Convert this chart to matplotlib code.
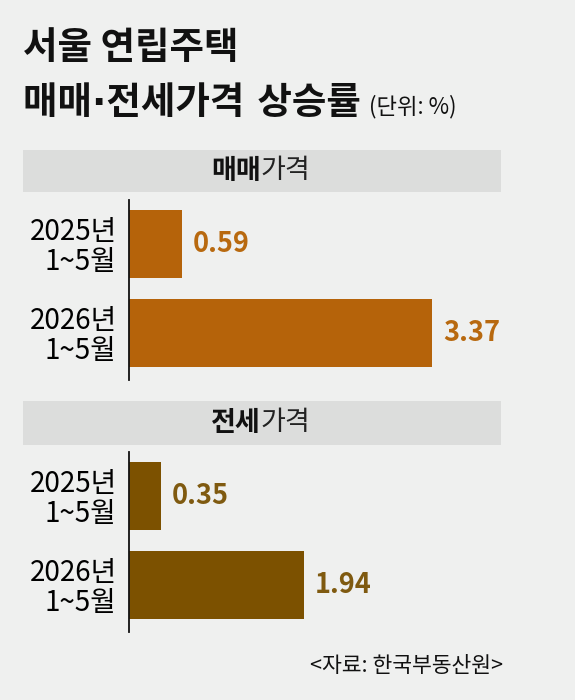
import matplotlib
matplotlib.use("Agg")
import matplotlib.pyplot as plt

plt.rcParams['font.family'] = ['Noto Sans CJK KR', 'DejaVu Sans']

# 데이터
categories = ["2025년\n1~5월", "2026년\n1~5월"]
sale_values = [0.59, 3.37]      # 매매가격 상승률
jeonse_values = [0.35, 1.94]    # 전세가격 상승률

W, H = 575, 700
BG = "#eff0ef"
BAND = "#dcdddc"
ORANGE = "#b5630a"
ORANGE_TXT = "#b8690f"
BROWN = "#7c5100"
BROWN_TXT = "#7f5a10"


def fx(px):
    return px / W


def fy(py):
    return 1 - py / H


fig = plt.figure(figsize=(W / 100, H / 100), dpi=100, facecolor=BG)

# 제목
fig.text(fx(23), fy(47), "서울 연립주택", fontsize=27, fontweight='bold',
         ha='left', va='center', color='#111111')
# 가운뎃점은 폭이 좁은 DejaVu 글리프로
t2 = fig.text(fx(23), fy(104), "매매·전세가격 상승률", fontsize=27, fontweight='bold',
              family=['DejaVu Sans', 'Noto Sans CJK KR'],
              ha='left', va='center', color='#111111')
r = fig.canvas.get_renderer()
ext = t2.get_window_extent(renderer=r)
fig.text((ext.x1 + 8) / W, fy(107), "(단위: %)", fontsize=16,
         ha='left', va='center', color='#111111')


def header(top, bottom, bold_part, normal_part):
    hx = fig.add_axes([fx(23), fy(bottom), fx(501 - 23), (bottom - top) / H])
    hx.set_facecolor(BAND)
    hx.set_xticks([])
    hx.set_yticks([])
    for s in hx.spines.values():
        s.set_visible(False)
    hx.text(0.497, 0.5, bold_part, fontsize=19.5, fontweight='bold',
            ha='right', va='center', transform=hx.transAxes, color='#111111')
    hx.text(0.497, 0.5, normal_part, fontsize=19.5, fontweight='medium',
            ha='left', va='center', transform=hx.transAxes, color='#222222')


def bars(top, values, color, txt_color):
    ax = fig.add_axes([fx(129), fy(top + 180), fx(360), 180 / H])
    ax.set_facecolor('none')
    y = list(range(len(values)))
    ax.barh(y, values, height=0.76, color=color)
    ax.set_xlim(0, 4)
    ax.set_ylim(1.53, -0.49)
    ax.set_yticks(y)
    ax.set_yticklabels(categories, fontsize=20, linespacing=0.98, ha='right')
    ax.tick_params(axis='y', length=0, pad=9)
    ax.set_xticks([])
    for side in ['top', 'right', 'bottom']:
        ax.spines[side].set_visible(False)
    ax.spines['left'].set_linewidth(1.3)
    ax.spines['left'].set_color('#111111')
    for yi, v in zip(y, values):
        ax.text(v + 0.12, yi, f"{v:.2f}", fontsize=19.5, fontweight='bold',
                color=txt_color, ha='left', va='center')
    return ax


header(150, 192, "매매", "가격")
bars(200, sale_values, ORANGE, ORANGE_TXT)

header(401, 445, "전세", "가격")
bars(452, jeonse_values, BROWN, BROWN_TXT)

# 출처
fig.text(fx(503), fy(666), "<자료: 한국부동산원>", fontsize=15.5,
         ha='right', va='center', color='#111111')

fig.savefig("out.png", dpi=100, facecolor=BG)
